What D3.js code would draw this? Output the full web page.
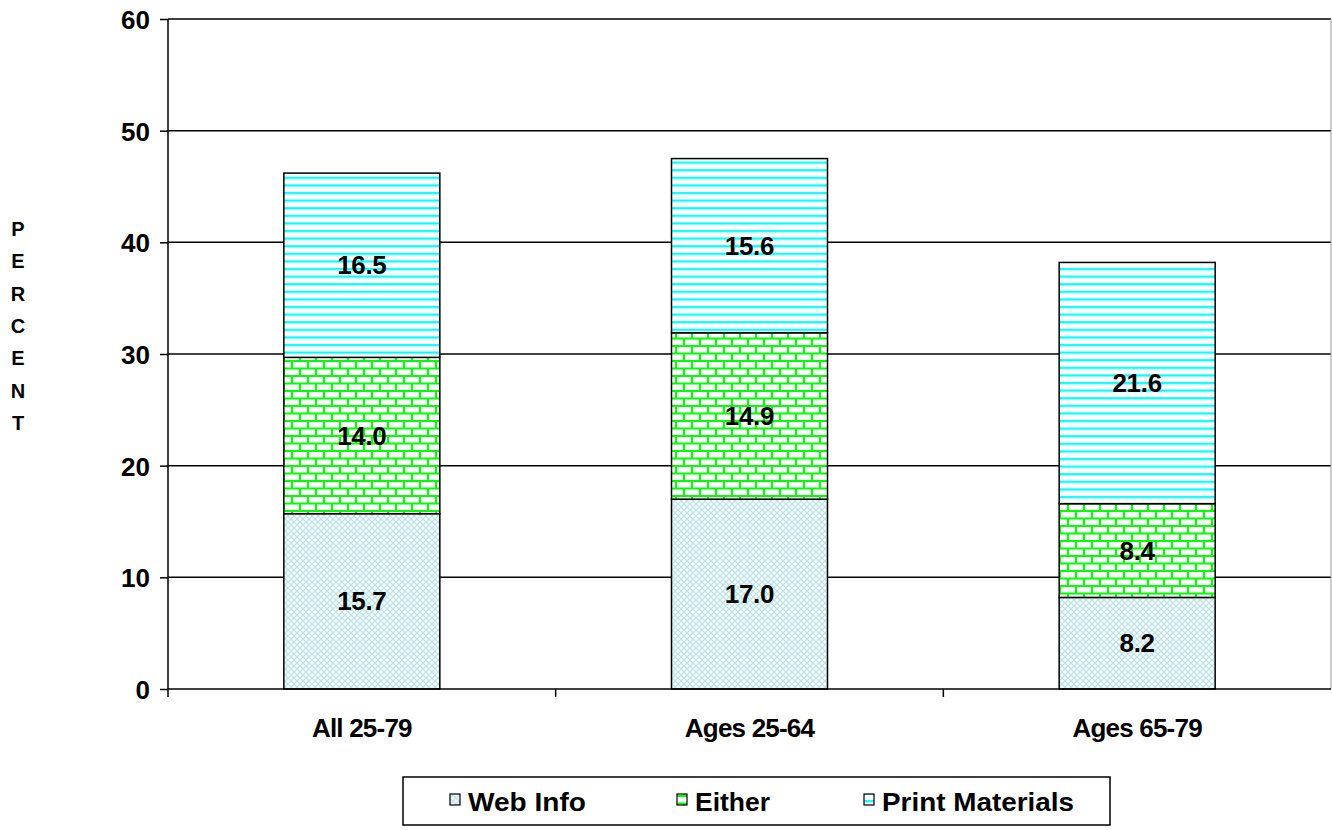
<!DOCTYPE html>
<html><head><meta charset="utf-8">
<script src="https://cdn.jsdelivr.net/npm/d3@7"></script>
<style>body{margin:0;background:#fff}svg{display:block;font-family:"Liberation Sans",Arial,sans-serif}</style>
</head><body><svg id="c" width="1332" height="830"></svg>
<script>
const categories = ["All 25-79", "Ages 25-64", "Ages 65-79"];
const seriesNames = ["Web Info", "Either", "Print Materials"];
const webInfo = [15.7, 17.0, 8.2];
const either = [14.0, 14.9, 8.4];
const printMaterials = [16.5, 15.6, 21.6];
const yTicks = [0, 10, 20, 30, 40, 50, 60];
const yLabel = "PERCENT";

const svg = d3.select("#c");
const defs = svg.append("defs");
const p1 = defs.append("pattern").attr("id","pWeb").attr("patternUnits","userSpaceOnUse").attr("width",6).attr("height",6);
p1.append("rect").attr("width",6).attr("height",6).attr("fill","#f2fafb");
p1.append("path").attr("d","M0,0L6,6M6,0L0,6").attr("stroke","#bfe2e6").attr("stroke-width",1.2);
const p2 = defs.append("pattern").attr("id","pEither").attr("patternUnits","userSpaceOnUse").attr("width",16).attr("height",15);
p2.append("rect").attr("width",16).attr("height",15).attr("fill","#fff");
p2.append("path").attr("d","M0,1L16,1M0,8.5L16,8.5M4,1L4,8.5M12,8.5L12,15").attr("stroke","#00ff00").attr("stroke-width",2);
const p3 = defs.append("pattern").attr("id","pPrint").attr("patternUnits","userSpaceOnUse").attr("width",8).attr("height",7.6);
p3.append("rect").attr("width",8).attr("height",7.6).attr("fill","#fff");
p3.append("rect").attr("y",2).attr("width",8).attr("height",2.2).attr("fill","#00ffff");
const fills = ["url(#pWeb)","url(#pEither)","url(#pPrint)"];

const m = {l:168, r:1331, t:19, b:689};
const xb = d3.scaleBand().domain(categories).range([m.l, m.r]);
const y = d3.scaleLinear().domain([0,60]).range([m.b, m.t]);

svg.append("g").selectAll("line").data(yTicks.filter(d=>d>0)).join("line")
  .attr("x1",m.l).attr("x2",m.r).attr("y1",d=>y(d)).attr("y2",d=>y(d))
  .attr("stroke","#000").attr("stroke-width",1.5);
svg.append("line").attr("x1",m.r).attr("x2",m.r).attr("y1",m.t).attr("y2",m.b).attr("stroke","#999").attr("stroke-width",1);

const table = categories.map((c,i)=>({cat:c, "Web Info":webInfo[i], "Either":either[i], "Print Materials":printMaterials[i]}));
const stack = d3.stack().keys(seriesNames)(table);
const bw = 156;
stack.forEach((s,si)=>{
  const g = svg.append("g");
  g.selectAll("rect").data(s).join("rect")
    .attr("x",d=>xb(d.data.cat)+xb.bandwidth()/2-bw/2).attr("width",bw)
    .attr("y",d=>y(d[1])).attr("height",d=>y(d[0])-y(d[1]))
    .attr("fill",fills[si]).attr("stroke","#000").attr("stroke-width",1.5);
  g.selectAll("text").data(s).join("text")
    .attr("x",d=>xb(d.data.cat)+xb.bandwidth()/2).attr("y",d=>y((d[0]+d[1])/2)+9)
    .attr("text-anchor","middle").attr("font-size",26).attr("font-weight","bold").attr("letter-spacing",-0.3)
    .text(d=>(d[1]-d[0]).toFixed(1));
});

const yAxis = svg.append("g").attr("transform",`translate(${m.l},0)`)
  .call(d3.axisLeft(y).tickValues(yTicks).tickSize(8).tickPadding(10));
yAxis.select(".domain").attr("d",`M0,${m.t}V${m.b+8}`).attr("stroke-width",1.5);
yAxis.selectAll(".tick line").attr("stroke-width",1.5);
yAxis.selectAll("text").attr("font-size",26).attr("font-weight","bold").attr("font-family","Liberation Sans, Arial").attr("fill","#000").attr("dy","0.36em");

const xAxis = svg.append("g").attr("transform",`translate(0,${m.b})`);
xAxis.append("line").attr("x1",m.l).attr("x2",m.r).attr("stroke","#000").attr("stroke-width",1.5);
xAxis.selectAll("line.t").data(categories.slice(1)).join("line").attr("class","t")
  .attr("x1",d=>xb(d)).attr("x2",d=>xb(d)).attr("y1",0).attr("y2",8).attr("stroke","#000").attr("stroke-width",1.5);
xAxis.selectAll("text").data(categories).join("text")
  .attr("x",d=>xb(d)+xb.bandwidth()/2).attr("y",48).attr("text-anchor","middle")
  .attr("font-size",26).attr("font-weight","bold").attr("letter-spacing",-0.8).text(d=>d);

svg.append("g").selectAll("text").data(yLabel.split("")).join("text")
  .attr("x",18).attr("y",(d,i)=>236+i*32.3).attr("text-anchor","middle")
  .attr("font-size",20).attr("font-weight","bold").text(d=>d);

const lg = svg.append("g");
lg.append("rect").attr("x",403).attr("y",777).attr("width",707).attr("height",48).attr("fill","#fff").attr("stroke","#000").attr("stroke-width",1.5);
const lx = [450, 677, 864];
const lw = [118, 75, 192];
seriesNames.forEach((n,i)=>{
  lg.append("rect").attr("x",lx[i]).attr("y",794).attr("width",10).attr("height",11).attr("fill",fills[i]).attr("stroke","#000").attr("stroke-width",1.2);
  lg.append("text").attr("x",lx[i]+18).attr("y",811).attr("font-size",26).attr("font-weight","bold")
    .attr("textLength",lw[i]).attr("lengthAdjust","spacingAndGlyphs").text(n);
});
</script></body></html>
